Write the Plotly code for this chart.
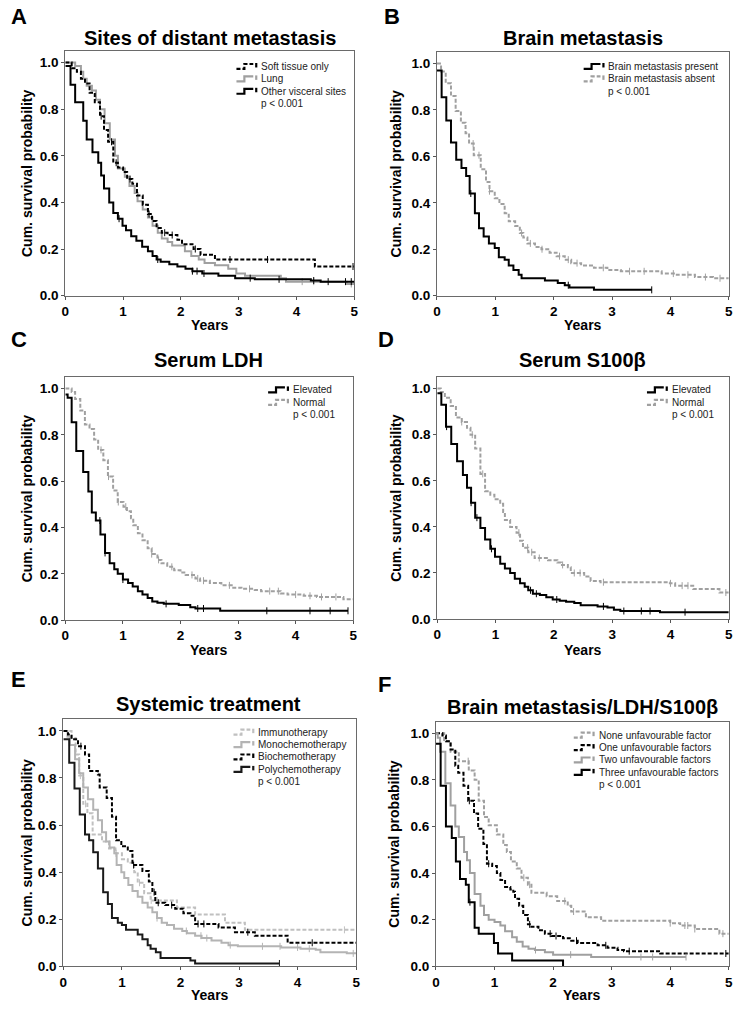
import plotly.graph_objects as go

W, H = 739, 1014

# ---------------- DATA ----------------
# Panel A: Sites of distant metastasis
A_soft_t = [0, 0.11, 0.20, 0.27, 0.34, 0.42, 0.51, 0.60, 0.67, 0.74, 0.83, 0.91, 1.00, 1.07, 1.16, 1.24, 1.34, 1.43, 1.50, 1.58, 1.67, 1.77, 1.94, 2.02, 2.22, 2.34, 2.59, 4.32]
A_soft_s = [1.0, 0.975, 0.96, 0.93, 0.91, 0.87, 0.83, 0.77, 0.71, 0.66, 0.57, 0.55, 0.53, 0.50, 0.48, 0.43, 0.39, 0.35, 0.32, 0.29, 0.27, 0.26, 0.24, 0.22, 0.20, 0.175, 0.155, 0.125]
A_soft_end = 5.0
A_soft_cens = [0.62, 0.80, 0.88, 1.12, 1.45, 1.72, 1.85, 2.25, 2.85, 3.5, 4.98]

A_lung_t = [0, 0.17, 0.27, 0.31, 0.37, 0.46, 0.53, 0.60, 0.68, 0.77, 0.86, 0.91, 1.03, 1.11, 1.20, 1.25, 1.34, 1.43, 1.51, 1.60, 1.67, 1.77, 1.85, 2.07, 2.18, 2.31, 2.41, 2.59, 2.82, 2.96, 3.11, 3.73, 3.82, 4.87]
A_lung_s = [1.0, 0.985, 0.96, 0.93, 0.90, 0.88, 0.84, 0.80, 0.74, 0.67, 0.60, 0.545, 0.51, 0.47, 0.44, 0.405, 0.37, 0.335, 0.30, 0.27, 0.245, 0.23, 0.215, 0.19, 0.17, 0.155, 0.14, 0.13, 0.115, 0.095, 0.085, 0.075, 0.06, 0.05]
A_lung_end = 5.0
A_lung_cens = [4.1, 4.3, 4.95]

A_other_t = [0, 0.09, 0.17, 0.31, 0.37, 0.47, 0.57, 0.62, 0.67, 0.76, 0.83, 0.91, 0.99, 1.05, 1.14, 1.23, 1.33, 1.43, 1.51, 1.58, 1.65, 1.80, 1.94, 2.08, 2.20, 2.37, 2.65, 2.94, 3.28, 4.25, 4.42]
A_other_s = [0.985, 0.905, 0.83, 0.75, 0.67, 0.615, 0.57, 0.515, 0.46, 0.40, 0.355, 0.33, 0.30, 0.28, 0.255, 0.235, 0.21, 0.19, 0.17, 0.155, 0.145, 0.135, 0.125, 0.115, 0.105, 0.095, 0.085, 0.075, 0.07, 0.065, 0.06]
A_other_end = 5.0
A_other_cens = [0.93, 1.6, 2.2, 2.28, 2.4, 3.2, 3.7, 4.3, 4.55, 4.85, 4.95]

# Panel B: Brain metastasis
B_pres_t = [0, 0.08, 0.16, 0.24, 0.33, 0.42, 0.50, 0.56, 0.65, 0.72, 0.80, 0.89, 0.99, 1.06, 1.16, 1.23, 1.31, 1.40, 1.45, 1.85, 2.07, 2.19, 2.27, 2.69]
B_pres_s = [0.97, 0.855, 0.755, 0.66, 0.585, 0.55, 0.515, 0.44, 0.355, 0.29, 0.255, 0.225, 0.205, 0.165, 0.155, 0.13, 0.11, 0.09, 0.075, 0.065, 0.055, 0.045, 0.035, 0.025]
B_pres_end = 3.68
B_pres_cens = [0.58, 2.25, 3.68]

B_abs_t = [0, 0.07, 0.15, 0.24, 0.32, 0.41, 0.49, 0.55, 0.63, 0.75, 0.84, 0.90, 0.99, 1.07, 1.16, 1.23, 1.34, 1.42, 1.48, 1.55, 1.68, 1.79, 1.93, 2.05, 2.19, 2.30, 2.47, 2.69, 2.92, 3.15, 3.85, 4.11, 4.42, 4.73]
B_abs_s = [1.0, 0.965, 0.915, 0.86, 0.795, 0.745, 0.70, 0.655, 0.605, 0.545, 0.49, 0.45, 0.42, 0.395, 0.355, 0.32, 0.30, 0.27, 0.25, 0.225, 0.21, 0.20, 0.185, 0.17, 0.155, 0.14, 0.13, 0.12, 0.11, 0.105, 0.095, 0.09, 0.08, 0.075]
B_abs_end = 5.0
B_abs_cens = [0.62, 0.72, 0.9, 1.45, 1.6, 1.8, 2.1, 2.25, 2.4, 2.85, 3.3, 3.55, 4.05, 4.3, 4.6, 4.85]

# Panel C: Serum LDH
C_elev_t = [0, 0.04, 0.11, 0.19, 0.31, 0.40, 0.46, 0.53, 0.61, 0.69, 0.77, 0.85, 0.91, 1.00, 1.09, 1.17, 1.26, 1.34, 1.43, 1.51, 1.60, 1.71, 1.97, 2.17, 2.26, 2.69]
C_elev_s = [0.975, 0.96, 0.855, 0.73, 0.64, 0.555, 0.465, 0.43, 0.37, 0.29, 0.245, 0.22, 0.20, 0.175, 0.16, 0.145, 0.125, 0.11, 0.095, 0.08, 0.075, 0.07, 0.065, 0.055, 0.05, 0.04]
C_elev_end = 4.91
C_elev_cens = [0.6, 0.69, 1.0, 1.75, 2.3, 2.4, 3.5, 4.25, 4.6, 4.91]

C_norm_t = [0, 0.11, 0.17, 0.26, 0.34, 0.42, 0.50, 0.57, 0.66, 0.74, 0.83, 0.91, 1.01, 1.07, 1.14, 1.18, 1.26, 1.34, 1.43, 1.50, 1.60, 1.67, 1.77, 1.89, 2.00, 2.09, 2.26, 2.34, 2.51, 2.71, 2.89, 3.06, 3.29, 3.40, 3.74, 3.86, 4.14, 4.37, 4.83]
C_norm_s = [1.0, 0.985, 0.955, 0.905, 0.845, 0.825, 0.78, 0.735, 0.69, 0.62, 0.56, 0.51, 0.49, 0.47, 0.44, 0.41, 0.375, 0.345, 0.31, 0.285, 0.26, 0.245, 0.23, 0.215, 0.205, 0.195, 0.18, 0.17, 0.16, 0.15, 0.14, 0.135, 0.13, 0.125, 0.115, 0.11, 0.105, 0.10, 0.09]
C_norm_end = 5.0
C_norm_cens = [0.62, 0.75, 0.92, 1.05, 1.5, 1.62, 1.85, 2.2, 2.3, 2.4, 2.85, 3.2, 3.55, 3.7, 4.0, 4.25, 4.45, 4.7]

# Panel D: Serum S100beta
D_elev_t = [0, 0.07, 0.15, 0.24, 0.34, 0.44, 0.51, 0.58, 0.65, 0.74, 0.82, 0.91, 0.99, 1.08, 1.16, 1.25, 1.33, 1.42, 1.50, 1.56, 1.64, 1.76, 1.87, 1.98, 2.10, 2.21, 2.35, 2.46, 2.75, 2.92, 3.03, 3.14, 3.82]
D_elev_s = [0.98, 0.93, 0.835, 0.76, 0.685, 0.625, 0.57, 0.505, 0.44, 0.395, 0.345, 0.305, 0.27, 0.24, 0.22, 0.20, 0.175, 0.155, 0.14, 0.125, 0.11, 0.105, 0.095, 0.085, 0.08, 0.075, 0.07, 0.06, 0.055, 0.05, 0.04, 0.035, 0.03]
D_elev_end = 5.0
D_elev_cens = [0.16, 0.58, 0.68, 0.93, 1.6, 1.7, 2.05, 2.85, 3.2, 3.5, 3.65, 4.25]

D_norm_t = [0, 0.06, 0.13, 0.23, 0.32, 0.42, 0.51, 0.57, 0.65, 0.74, 0.82, 0.91, 0.98, 1.08, 1.13, 1.16, 1.25, 1.36, 1.42, 1.47, 1.56, 1.67, 1.90, 2.06, 2.12, 2.24, 2.29, 2.52, 2.63, 2.80, 3.99, 4.08, 4.39, 4.84]
D_norm_s = [1.0, 0.985, 0.96, 0.925, 0.875, 0.855, 0.83, 0.80, 0.74, 0.63, 0.555, 0.54, 0.52, 0.50, 0.465, 0.43, 0.40, 0.375, 0.34, 0.31, 0.29, 0.265, 0.255, 0.245, 0.235, 0.225, 0.20, 0.185, 0.165, 0.16, 0.155, 0.145, 0.13, 0.115]
D_norm_end = 5.0
D_norm_cens = [0.42, 0.6, 0.78, 1.4, 1.55, 1.62, 1.75, 2.15, 2.35, 2.45, 2.85, 4.0, 4.2, 4.3, 4.95]

# Panel E: Systemic treatment
E_imm_t = [0, 0.14, 0.21, 0.27, 0.34, 0.41, 0.50, 0.66, 0.78, 0.89, 1.00, 1.10, 1.21, 1.27, 1.38, 1.49, 1.94, 2.25, 2.76, 3.10]
E_imm_s = [1.0, 0.97, 0.90, 0.81, 0.69, 0.65, 0.56, 0.53, 0.50, 0.48, 0.455, 0.44, 0.40, 0.355, 0.31, 0.28, 0.25, 0.22, 0.185, 0.155]
E_imm_end = 5.0
E_imm_cens = [0.29, 0.38, 1.3, 1.5, 1.6, 4.8]

E_mono_t = [0, 0.07, 0.11, 0.20, 0.27, 0.34, 0.42, 0.51, 0.59, 0.66, 0.73, 0.79, 0.87, 0.91, 0.99, 1.04, 1.11, 1.18, 1.27, 1.35, 1.44, 1.52, 1.60, 1.68, 1.77, 1.89, 2.03, 2.11, 2.25, 2.36, 2.53, 2.70, 2.82, 2.98, 3.72, 4.05, 4.31, 4.39, 4.84]
E_mono_s = [1.0, 0.975, 0.94, 0.88, 0.82, 0.76, 0.71, 0.665, 0.62, 0.57, 0.53, 0.505, 0.48, 0.43, 0.40, 0.375, 0.345, 0.32, 0.295, 0.27, 0.25, 0.23, 0.205, 0.185, 0.175, 0.16, 0.15, 0.14, 0.13, 0.12, 0.11, 0.10, 0.09, 0.085, 0.08, 0.075, 0.07, 0.06, 0.055]
E_mono_end = 5.0
E_mono_cens = [0.9, 1.6, 2.1, 2.35, 2.45, 2.85, 3.4, 3.7, 4.0, 4.2, 4.95]

E_bio_t = [0, 0.08, 0.14, 0.25, 0.37, 0.44, 0.59, 0.62, 0.74, 0.83, 0.90, 0.99, 1.10, 1.18, 1.35, 1.46, 1.52, 1.57, 1.74, 1.91, 2.05, 2.17, 2.25, 2.65, 2.93, 3.27, 3.83]
E_bio_s = [1.0, 0.985, 0.965, 0.935, 0.90, 0.83, 0.815, 0.76, 0.715, 0.635, 0.535, 0.51, 0.49, 0.43, 0.405, 0.36, 0.315, 0.27, 0.26, 0.245, 0.225, 0.215, 0.18, 0.165, 0.145, 0.13, 0.10]
E_bio_end = 5.0
E_bio_cens = [0.3, 1.2, 1.55, 1.62, 1.85, 2.3, 2.4, 3.15, 4.25]

E_poly_t = [0, 0.10, 0.19, 0.28, 0.37, 0.44, 0.51, 0.59, 0.68, 0.76, 0.83, 0.93, 1.00, 1.07, 1.27, 1.35, 1.44, 1.49, 1.58, 1.66, 2.17, 2.25]
E_poly_s = [0.965, 0.865, 0.755, 0.645, 0.56, 0.535, 0.485, 0.415, 0.315, 0.265, 0.205, 0.185, 0.175, 0.155, 0.135, 0.115, 0.09, 0.075, 0.06, 0.035, 0.025, 0.012]
E_poly_end = 3.69
E_poly_cens = [3.69]

# Panel F: Brain metastasis / LDH / S100beta
F_none_t = [0, 0.14, 0.25, 0.39, 0.56, 0.66, 0.73, 0.82, 0.90, 1.04, 1.15, 1.21, 1.28, 1.38, 1.46, 1.57, 1.63, 1.89, 2.07, 2.25, 2.31, 2.56, 2.82, 4.00, 4.17, 4.42, 4.84]
F_none_s = [1.0, 0.965, 0.92, 0.88, 0.84, 0.80, 0.71, 0.64, 0.605, 0.565, 0.52, 0.49, 0.45, 0.42, 0.38, 0.35, 0.315, 0.30, 0.28, 0.26, 0.235, 0.21, 0.195, 0.185, 0.175, 0.16, 0.14]
F_none_end = 5.0
F_none_cens = [0.55, 1.5, 1.6, 2.2, 2.35, 4.0, 4.25, 4.3, 4.42, 4.9]

F_one_t = [0, 0.11, 0.17, 0.25, 0.33, 0.38, 0.47, 0.55, 0.65, 0.72, 0.81, 0.87, 0.96, 1.04, 1.10, 1.18, 1.27, 1.32, 1.35, 1.42, 1.49, 1.57, 1.63, 1.75, 1.86, 1.97, 2.17, 2.31, 2.42, 2.76, 2.93, 3.10, 3.21, 3.83]
F_one_s = [1.0, 0.99, 0.965, 0.93, 0.86, 0.83, 0.775, 0.71, 0.655, 0.59, 0.525, 0.44, 0.43, 0.40, 0.37, 0.34, 0.33, 0.32, 0.29, 0.26, 0.22, 0.18, 0.17, 0.155, 0.14, 0.13, 0.12, 0.11, 0.10, 0.09, 0.08, 0.07, 0.065, 0.055]
F_one_end = 5.0
F_one_cens = [0.57, 0.9, 1.6, 1.95, 2.05, 2.4, 2.9, 3.3, 4.95]

F_two_t = [0, 0.03, 0.07, 0.16, 0.25, 0.33, 0.39, 0.48, 0.53, 0.58, 0.66, 0.76, 0.82, 0.90, 1.00, 1.10, 1.18, 1.30, 1.38, 1.48, 1.58, 1.69, 1.86, 2.00, 2.65]
F_two_s = [1.0, 0.98, 0.92, 0.785, 0.69, 0.60, 0.555, 0.49, 0.455, 0.40, 0.31, 0.26, 0.22, 0.20, 0.19, 0.175, 0.15, 0.125, 0.105, 0.085, 0.075, 0.07, 0.06, 0.05, 0.04]
F_two_end = 4.27
F_two_cens = [1.7, 2.3, 3.5, 3.7, 4.27]

F_three_t = [0, 0.08, 0.17, 0.27, 0.34, 0.41, 0.51, 0.56, 0.66, 0.73, 0.99, 1.06, 1.30, 2.17]
F_three_s = [0.955, 0.775, 0.60, 0.55, 0.45, 0.375, 0.35, 0.275, 0.165, 0.14, 0.10, 0.055, 0.025, 0.0]
F_three_end = 2.17
F_three_cens = [0.58]

# Titles / labels
panel_letters = ["A", "B", "C", "D", "E", "F"]
panel_titles = ["Sites of distant metastasis", "Brain metastasis", "Serum LDH",
                "Serum S100β", "Systemic treatment", "Brain metastasis/LDH/S100β"]
x_ticks = [0, 1, 2, 3, 4, 5]
y_ticks = [0.0, 0.2, 0.4, 0.6, 0.8, 1.0]
x_title = "Years"
y_title = "Cum. survival probability"
p_text = "p < 0.001"

BLACK = "#000000"
GRAY = "#a0a0a0"
LGRAY = "#c0c0c0"
DASH = "4px,2px"

panels = [
    dict(box=(62, 354, 298, 63), curves=[
        ("Soft tissue only", A_soft_t, A_soft_s, A_soft_end, A_soft_cens, BLACK, DASH),
        ("Lung", A_lung_t, A_lung_s, A_lung_end, A_lung_cens, GRAY, "solid"),
        ("Other visceral sites", A_other_t, A_other_s, A_other_end, A_other_cens, BLACK, "solid"),
    ], legend=(235, 67), draw_order=[1, 0, 2]),
    dict(box=(437.7, 732.7, 298, 64), curves=[
        ("Brain metastasis present", B_pres_t, B_pres_s, B_pres_end, B_pres_cens, BLACK, "solid"),
        ("Brain metastasis absent", B_abs_t, B_abs_s, B_abs_end, B_abs_cens, GRAY, DASH),
    ], legend=(586, 67), draw_order=[1, 0]),
    dict(box=(62, 353, 625, 391.7), curves=[
        ("Elevated", C_elev_t, C_elev_s, C_elev_end, C_elev_cens, BLACK, "solid"),
        ("Normal", C_norm_t, C_norm_s, C_norm_end, C_norm_cens, GRAY, DASH),
    ], legend=(267, 393), draw_order=[1, 0]),
    dict(box=(438, 732.7, 624, 391.7), curves=[
        ("Elevated", D_elev_t, D_elev_s, D_elev_end, D_elev_cens, BLACK, "solid"),
        ("Normal", D_norm_t, D_norm_s, D_norm_end, D_norm_cens, GRAY, DASH),
    ], legend=(650, 393), draw_order=[1, 0]),
    dict(box=(60, 356, 974, 736.7), curves=[
        ("Immunotherapy", E_imm_t, E_imm_s, E_imm_end, E_imm_cens, LGRAY, DASH),
        ("Monochemotherapy", E_mono_t, E_mono_s, E_mono_end, E_mono_cens, "#b4b4b4", "solid"),
        ("Biochemotherapy", E_bio_t, E_bio_s, E_bio_end, E_bio_cens, BLACK, DASH),
        ("Polychemotherapy", E_poly_t, E_poly_s, E_poly_end, E_poly_cens, "#1a1a1a", "solid"),
    ], legend=(232, 738), draw_order=[0, 1, 2, 3]),
    dict(box=(436.7, 732.7, 974, 739), curves=[
        ("None unfavourable factor", F_none_t, F_none_s, F_none_end, F_none_cens, GRAY, DASH),
        ("One unfavourable factors", F_one_t, F_one_s, F_one_end, F_one_cens, BLACK, DASH),
        ("Two unfavourable factors", F_two_t, F_two_s, F_two_end, F_two_cens, GRAY, "solid"),
        ("Three unfavourable factors", F_three_t, F_three_s, F_three_end, F_three_cens, BLACK, "solid"),
    ], legend=(576, 741), draw_order=[0, 1, 2, 3]),
]

letter_pos = [(15, 17), (392, 17), (15, 342), (386, 342), (15, 685), (385, 690)]
title_pos = [(208, 38), (585, 38), (207, 363), (585, 363), (207, 710), (585, 713)]
ytitle_x = [23, 396, 23, 396, 23, 394]
xtitle_y = [328, 328, 655, 655, 1003, 1003]

YMAX = 1.05
FONT = "Liberation Sans, Arial, Helvetica, sans-serif"


def px(x):
    return x / W


def py(y):
    return 1 - y / H


def surv_at(t, s, x):
    v = s[0]
    for ti, si in zip(t, s):
        if ti <= x:
            v = si
    return v


fig = go.Figure()
layout = dict(width=W, height=H, margin=dict(l=0, r=0, t=0, b=0),
              paper_bgcolor="white", plot_bgcolor="white", showlegend=False,
              font=dict(family=FONT, color="black"))
annotations = []
shapes = []

for i, p in enumerate(panels):
    k = i + 1
    xa = "xaxis" if k == 1 else f"xaxis{k}"
    ya = "yaxis" if k == 1 else f"yaxis{k}"
    xr = "x" if k == 1 else f"x{k}"
    yr = "y" if k == 1 else f"y{k}"
    left, right, y0, y1 = p["box"]
    top = y0 - YMAX * (y0 - y1)
    layout[xa] = dict(domain=[px(left), px(right)], anchor=yr, range=[0, 5],
                      tickvals=x_ticks, ticks="outside", ticklen=3, tickcolor="#555",
                      showline=True, linecolor="#6a6a6a", linewidth=1, mirror=True,
                      showgrid=False, zeroline=False, ticklabeloverflow="allow",
                      tickfont=dict(size=13.5, weight="bold", family=FONT, color="black"))
    layout[ya] = dict(domain=[py(y0), py(top)], anchor=xr, range=[0, YMAX],
                      tickvals=y_ticks, tickformat=".1f", ticks="outside", ticklen=3,
                      tickcolor="#555", showline=True, linecolor="#6a6a6a", linewidth=1,
                      mirror=True, showgrid=False, zeroline=False, ticklabeloverflow="allow",
                      tickfont=dict(size=13.5, weight="bold", family=FONT, color="black"))
    for ci in p["draw_order"]:
        name, t, s, end, cens, color, dash = p["curves"][ci]
        xs = list(t) + [end]
        ys = list(s) + [s[-1]]
        fig.add_trace(go.Scatter(x=xs, y=ys, mode="lines", line_shape="hv",
                                 line=dict(color=color, width=2, dash=dash),
                                 name=name, xaxis=xr, yaxis=yr, cliponaxis=False))
        fig.add_trace(go.Scatter(x=cens, y=[surv_at(t, s, c) for c in cens], mode="markers",
                                 marker=dict(symbol="line-ns", size=5,
                                             line=dict(color=color, width=1)),
                                 xaxis=xr, yaxis=yr, hoverinfo="skip", cliponaxis=False))
    # legend (manual)
    lx, ly = p["legend"]
    row = 12.5
    for j, (name, t, s, end, cens, color, dash) in enumerate(p["curves"]):
        yy = ly + j * row
        path = (f"M {px(lx)},{py(yy + 2.5)} L {px(lx + 8)},{py(yy + 2.5)} "
                f"L {px(lx + 8)},{py(yy - 2.5)} L {px(lx + 17)},{py(yy - 2.5)}")
        shapes.append(dict(type="path", xref="paper", yref="paper", path=path,
                           line=dict(color=color, width=2.2, dash=dash)))
        shapes.append(dict(type="line", xref="paper", yref="paper",
                           x0=px(lx + 20), x1=px(lx + 20), y0=py(yy - 3.5), y1=py(yy + 1),
                           line=dict(color=color, width=2.2)))
        annotations.append(dict(text=name, x=px(lx + 23), y=py(yy), xref="paper", yref="paper",
                                xanchor="left", yanchor="middle", showarrow=False,
                                font=dict(size=10, color="#222", family=FONT)))
    annotations.append(dict(text=p_text, x=px(lx + 23), y=py(ly + len(p["curves"]) * row),
                            xref="paper", yref="paper", xanchor="left", yanchor="middle",
                            showarrow=False, font=dict(size=10, color="#222", family=FONT)))
    # letter, title, axis titles
    lx0, ly0 = letter_pos[i]
    annotations.append(dict(text=panel_letters[i], x=px(lx0), y=py(ly0), xref="paper", yref="paper",
                            xanchor="center", yanchor="middle", showarrow=False,
                            font=dict(size=22, weight="bold", family=FONT, color="black")))
    tx, ty = title_pos[i]
    annotations.append(dict(text=panel_titles[i], x=px(tx), y=py(ty), xref="paper", yref="paper",
                            xanchor="center", yanchor="middle", showarrow=False,
                            font=dict(size=20, weight="bold", family=FONT, color="black")))
    annotations.append(dict(text=y_title, x=px(ytitle_x[i]), y=py((y0 + top) / 2), xref="paper",
                            yref="paper", xanchor="center", yanchor="middle", textangle=-90,
                            showarrow=False,
                            font=dict(size=14, weight="bold", family=FONT, color="black")))
    annotations.append(dict(text=x_title, x=px((left + right) / 2), y=py(xtitle_y[i]), xref="paper",
                            yref="paper", xanchor="center", yanchor="middle", showarrow=False,
                            font=dict(size=14, weight="bold", family=FONT, color="black")))

layout["annotations"] = annotations
layout["shapes"] = shapes
fig.update_layout(**layout)
fig.write_html("out.html", config={"displayModeBar": False},
               post_script="document.body.style.margin='0px';document.body.style.overflow='hidden';")
